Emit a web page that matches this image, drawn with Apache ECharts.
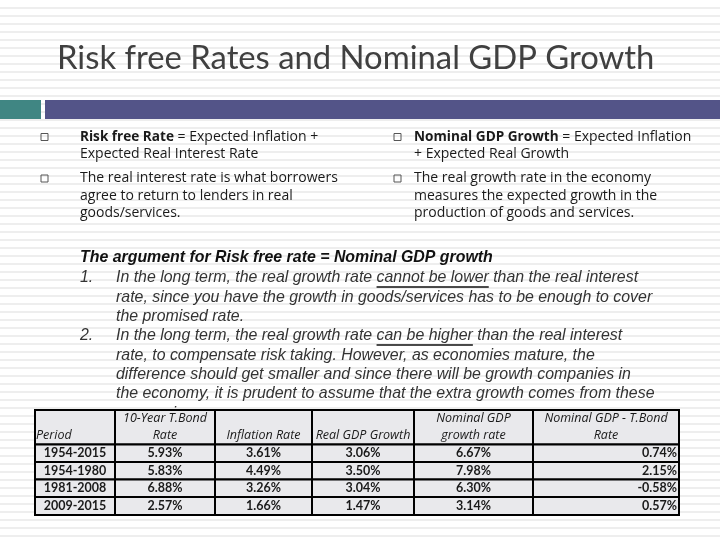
<!DOCTYPE html>
<html><head><meta charset="utf-8">
<script src="https://cdn.jsdelivr.net/npm/echarts@6/dist/echarts.min.js"></script>
<style>html,body{margin:0;padding:0;background:#fff}#c{width:720px;height:540px}</style>
</head><body><div id="c"></div>
<script>
// ---- data ----
const periods = ['1954-2015', '1954-1980', '1981-2008', '2009-2015'];
const tbondRate = [5.93, 5.83, 6.88, 2.57];
const inflationRate = [3.61, 4.49, 3.26, 1.66];
const realGdpGrowth = [3.06, 3.50, 3.04, 1.47];
const nominalGdpGrowth = [6.67, 7.98, 6.30, 3.14];
const nominalMinusTbond = [0.74, 2.15, -0.58, 0.57];
const headers = ['Period', '10-Year T.Bond\nRate', 'Inflation Rate', 'Real GDP Growth', 'Nominal GDP\ngrowth rate', 'Nominal GDP - T.Bond\nRate'];

const titleText = 'Risk free Rates and Nominal GDP Growth';
const leftBullets = [
  [['Risk free Rate', ' = Expected Inflation +'], ['', 'Expected Real Interest Rate']],
  [['', 'The real interest rate is what borrowers'], ['', 'agree to return to lenders in real'], ['', 'goods/services.']]
];
const rightBullets = [
  [['Nominal GDP Growth', ' = Expected Inflation'], ['', '+ Expected Real Growth']],
  [['', 'The real growth rate in the economy'], ['', 'measures the expected growth in the'], ['', 'production of goods and services.']]
];
const argHeading = 'The argument for Risk free rate = Nominal GDP growth';
const argItems = [
  ['1.', [['In the long term, the real growth rate ', 'cannot be lower', ' than the real interest'],
          ['rate, since you have the growth in goods/services has to be enough to cover'],
          ['the promised rate.']]],
  ['2.', [['In the long term, the real growth rate ', 'can be higher', ' than the real interest'],
          ['rate, to compensate risk taking. However, as economies mature, the'],
          ['difference should get smaller and since there will be growth companies in'],
          ['the economy, it is prudent to assume that the extra growth comes from these'],
          ['companies.']]]
];

// ---- layout ----
const colEdges = [0, 80, 180, 277, 379, 498, 644];
const rowEdges = [0, 34.5, 52, 69.5, 87, 105];
const fmt = v => v.toFixed(2) + '%';
const columns = [periods, tbondRate.map(fmt), inflationRate.map(fmt), realGdpGrowth.map(fmt), nominalGdpGrowth.map(fmt), nominalMinusTbond.map(fmt)];

const cells = [];
for (let r = 0; r <= periods.length; r++) for (let c = 0; c < headers.length; c++) cells.push([c, r]);

const measureCtx = document.createElement('canvas').getContext('2d');
function textW(font, s) { measureCtx.font = font; return measureCtx.measureText(s).width; }

const graphics = [];
// stripes
for (let y = 7; y < 540; y += 8) {
  graphics.push({ type: 'rect', shape: { x: 0, y: y, width: 720, height: 2 }, style: { fill: '#eeeeee' }, z: -10, silent: true });
}
// title
graphics.push({ type: 'text', x: 57, y: 58, style: { text: titleText, font: '32.8px Lato', fill: '#404040', verticalAlign: 'middle' } });
// band
graphics.push({ type: 'rect', shape: { x: 0, y: 100, width: 41, height: 19 }, style: { fill: '#408683' } });
graphics.push({ type: 'rect', shape: { x: 45, y: 100, width: 675, height: 19 }, style: { fill: '#535488' } });

// bullets
const bFont = '14px "Open Sans"', bBold = 'bold 13.6px "Open Sans"';
function bulletCol(items, bx, tx) {
  let y = 137;
  items.forEach((lines, i) => {
    graphics.push({ type: 'rect', shape: { x: bx, y: y - 3.5, width: 7, height: 7 }, style: { fill: 'none', stroke: '#555', lineWidth: 1 } });
    lines.forEach(([b, t]) => {
      let x = tx;
      if (b) {
        graphics.push({ type: 'text', x: x, y: y, style: { text: b, font: bBold, fill: '#1a1a1a', verticalAlign: 'middle' } });
        x += textW(bBold, b);
      }
      graphics.push({ type: 'text', x: x, y: y, style: { text: t, font: bFont, fill: '#1a1a1a', verticalAlign: 'middle' } });
      y += 17.5;
    });
    y += 6.5;
  });
}
bulletCol(leftBullets, 41, 80);
bulletCol(rightBullets, 394, 414);

// argument
const aFont = 'italic 15.9px "Liberation Sans"';
graphics.push({ type: 'text', x: 80, y: 258, style: { text: argHeading, font: 'italic bold 15.9px "Liberation Sans"', fill: '#111', verticalAlign: 'middle' } });
let ay = 278;
argItems.forEach(([num, lines]) => {
  graphics.push({ type: 'text', x: 80, y: ay, style: { text: num, font: aFont, fill: '#333', verticalAlign: 'middle' } });
  lines.forEach(parts => {
    let x = 116;
    parts.forEach((p, k) => {
      graphics.push({ type: 'text', x: x, y: ay, style: { text: p, font: aFont, fill: '#333', verticalAlign: 'middle' }, z: 1 });
      const w = textW(aFont, p);
      if (k === 1) graphics.push({ type: 'line', shape: { x1: x, y1: ay + 9, x2: x + w, y2: ay + 9 }, style: { stroke: '#111', lineWidth: 1.5 } });
      x += w;
    });
    ay += 19.3;
  });
});

const chart = echarts.init(document.getElementById('c'), null, { renderer: 'canvas' });
chart.setOption({
  backgroundColor: '#ffffff',
  animation: false,
  graphic: graphics,
  grid: { left: 35, top: 410, width: 644, height: 105 },
  xAxis: { type: 'value', min: 0, max: 644, show: false },
  yAxis: { type: 'value', min: 0, max: 105, inverse: true, show: false },
  series: [{
    type: 'custom',
    z: 10,
    data: cells,
    clip: false,
    renderItem: function (params, api) {
      const c = api.value(0), r = api.value(1);
      const p0 = api.coord([colEdges[c], rowEdges[r]]);
      const p1 = api.coord([colEdges[c + 1], rowEdges[r + 1]]);
      const children = [{
        type: 'rect',
        shape: { x: p0[0], y: p0[1], width: p1[0] - p0[0], height: p1[1] - p0[1] },
        style: { fill: '#e9e9ec', stroke: '#000', lineWidth: 2 }
      }];
      let txt, x, align, font, y, vAlign;
      if (r === 0) {
        txt = headers[c];
        font = 'italic 12.5px "Open Sans"';
        align = c === 0 ? 'left' : 'center';
        x = c === 0 ? p0[0] + 1 : (p0[0] + p1[0]) / 2;
        y = p1[1] - 1; vAlign = 'bottom';
      } else {
        txt = columns[c][r - 1];
        font = 'bold 12.5px Lato';
        align = c === 5 ? 'right' : 'center';
        x = c === 5 ? p1[0] - 2 : (p0[0] + p1[0]) / 2;
        y = (p0[1] + p1[1]) / 2; vAlign = 'middle';
      }
      children.push({ type: 'text', x: x, y: y, style: { text: txt, font: font, fill: '#1a1a1a', align: align, verticalAlign: vAlign, lineHeight: 17 } });
      return { type: 'group', children: children };
    }
  }]
});
</script></body></html>
